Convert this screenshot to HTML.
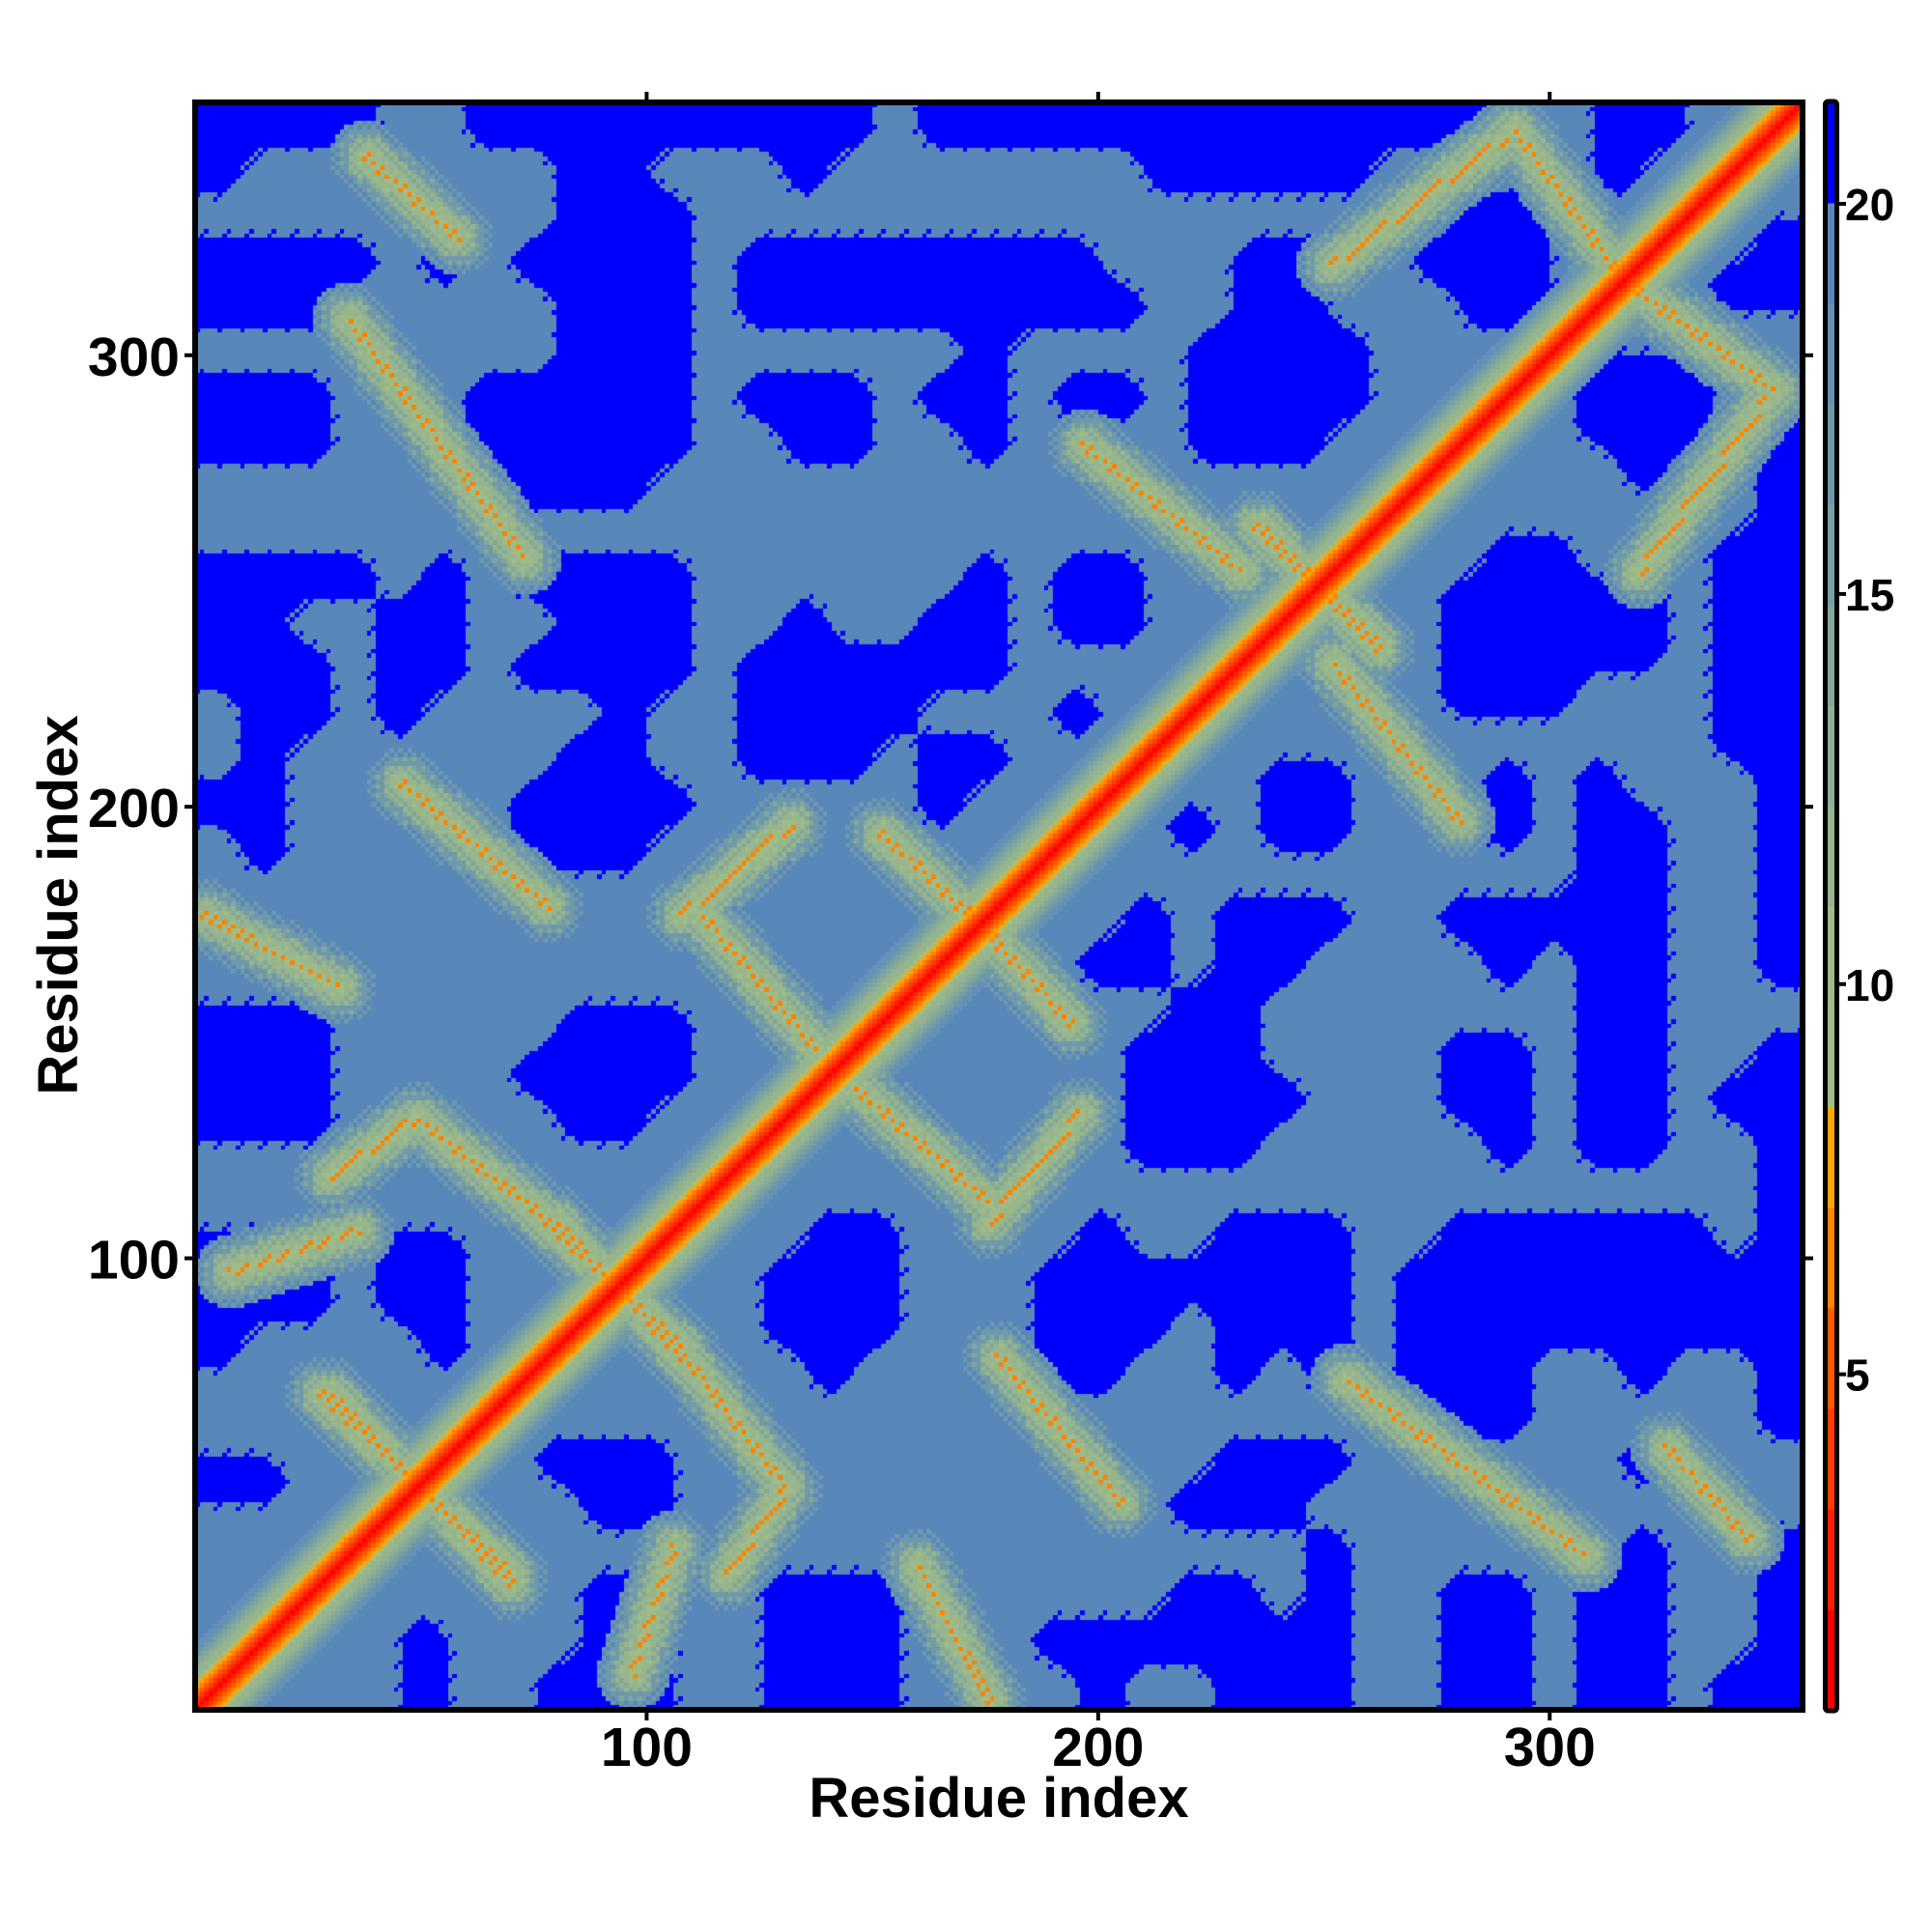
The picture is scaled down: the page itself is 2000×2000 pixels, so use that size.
<!DOCTYPE html>
<html>
<head>
<meta charset="utf-8">
<style>
html,body{margin:0;padding:0;background:#fff;}
#wrap{position:relative;width:2000px;height:2000px;overflow:hidden;background:#fff;}
#heat{position:absolute;left:202px;top:106px;width:1664px;height:1664px;}
#over{position:absolute;left:0;top:0;}
text{font-family:"Liberation Sans",sans-serif;font-weight:bold;fill:#000;}
</style>
</head>
<body>
<div id="wrap">
<canvas id="heat" width="1664" height="1664"></canvas>
<svg id="over" width="2000" height="2000">
  <g id="cbar"></g>
  <rect x="202" y="106" width="1664" height="1664" fill="none" stroke="#000" stroke-width="6"/>
  <g id="ticks"></g>
  <text x="1034" y="1881" font-size="58" text-anchor="middle">Residue index</text>
  <text x="0" y="0" font-size="58" text-anchor="middle" transform="translate(80,937) rotate(-90)">Residue index</text>
</svg>
</div>
<script>
// ---- data ----
const N = 356;
// coarse distance grid (10-residue blocks), rows from top (y high) to bottom; left half + right half
const gridRows = [
"####..#########.##" + "###########..##...",
"#.......##...#...." + "...#####.....#....",
"........###......." + "..........##......",
"####.#.####.######" + "##...##..###......",
"###.....###.######" + "###..##...##......",
"........###......#" + "....####..........",
"###...#####.###.##" + ".##.####..........",
"###...#####..##..#" + "....###...........",
".......###........" + "..................",
".................." + "..................",
"####.#.####......#" + ".##...............",
"##..##..###..#..##" + ".##...............",
"###.##.####.######" + "..................",
".##.#....#..####.." + ".#................",
".#......##..###.##" + "..................",
"##.....####.....#." + "..................",
".#.....###........" + "..................",
".................." + "..................",
".................." + "..................",
".................." + "..................",
"###.....###......." + "..................",
"###....####......." + "..................",
"###.....##........" + "..................",
".................." + "..................",
".................." + "..................",
"###.##............" + "..................",
"###.##............" + "..................",
"#....#............" + "..................",
".................." + "..................",
".................." + "..................",
"##................" + "..................",
".................." + "..................",
".................." + "..................",
".................." + "..................",
".................." + "..................",
".................." + ".................."
];
// distance profile along the main diagonal (|i-j| = 0,1,2,...)
const diagProfile = [1.2, 2.4, 3.6, 5.0, 6.4, 7.6, 9.5, 10.6, 11.6, 12.6, 13.8, 15.0, 16.2, 17.4, 18.4];
// secondary-structure contact stripes (residue coords, upper triangle)
const stripeStarts = [[34,308],[38,344],[30,118],[49,131],[2,176],[8,97],[252,320],[292,350],[197,280],[235,262],[46,205],[108,176],[152,194],[28,70],[112,176],[80,108]];
const stripeEnds   = [[73,255],[58,326],[49,131],[80,107],[32,160],[36,106],[290,348],[314,320],[232,252],[262,236],[78,178],[132,196],[178,170],[70,30],[138,146],[108,78]];
// colour scale
const cbarMin = 0.7, cbarMax = 21.3;
const cbarColors = ["#ff0000","#ff1e00","#ff3c00","#ff5a00","#ff8200","#ffa500","#a3be85","#9fbb88","#97b58d","#8daf93","#83a89b","#78a1a3","#6e99ab","#6591b4","#5a87ba","#0000ff"];
const cbarTicks = [5,10,15,20];
const xTicks = [100,200,300];
const yTicks = [100,200,300];

// ---- scales ----
const PX0 = 202, PY0 = 106, PW = 1664;
const sx = v => PX0 + v * PW / N;
const sy = v => PY0 + PW - v * PW / N;
const cy = v => PY0 + PW - (v - cbarMin) * PW / (cbarMax - cbarMin);
const nb = cbarColors.length, step = (cbarMax - cbarMin) / nb;
const colorOf = v => { let b = Math.floor((v - cbarMin) / step); if (b < 0) b = 0; if (b > nb - 1) b = nb - 1; return cbarColors[b]; };

function gridVal(r, c) {
  r = Math.max(0, Math.min(35, r)); c = Math.max(0, Math.min(35, c));
  const s = gridRows[r] || ""; return s.charAt(c) === "#" ? 1 : 0;
}
function maskAt(xc, yc) {
  const col = (xc - 5) / 10, row = (351 - yc) / 10;
  const c0 = Math.floor(col), r0 = Math.floor(row), fc = col - c0, fr = row - r0;
  return gridVal(r0, c0) * (1 - fc) * (1 - fr) + gridVal(r0, c0 + 1) * fc * (1 - fr) +
         gridVal(r0 + 1, c0) * (1 - fc) * fr + gridVal(r0 + 1, c0 + 1) * fc * fr;
}
function segDist(px, py, ax, ay, bx, by) {
  const dx = bx - ax, dy = by - ay; let t = ((px - ax) * dx + (py - ay) * dy) / (dx * dx + dy * dy);
  t = Math.max(0, Math.min(1, t)); const qx = ax + t * dx - px, qy = ay + t * dy - py;
  return Math.sqrt(qx * qx + qy * qy);
}
function valueAt(i, j) {
  const x = Math.min(i, j), y = Math.max(i, j);
  const xc = x - 0.5, yc = y - 0.5;
  const m = maskAt(xc, yc);
  let v = m > 0.5 ? 21 : 19;
  if (m > 0.35 && m <= 0.5 && ((i * 7 + j * 3) % 5 === 0)) v = 21;
  const d = y - x;
  if (d < diagProfile.length) v = Math.min(v, diagProfile[d] + ((d > 6 && (i + j) % 2) ? 0.9 : 0));
  let md = 99;
  for (let k = 0; k < stripeStarts.length; k++) {
    const a = stripeStarts[k], b = stripeEnds[k];
    md = Math.min(md, segDist(xc, yc, a[0], a[1], b[0], b[1]), segDist(xc, yc, a[1], a[0], b[1], b[0]));
  }
  let sv = 99;
  if (md < 1.0) sv = ((i + 2 * j) % 3 === 0) ? 6.2 : 9.8;
  else if (md < 2.6) sv = (i % 2 && j % 2) ? 9.8 : 11.2;
  else if (md < 4.4) sv = ((i + j) % 2) ? 12.0 : 13.6;
  else if (md < 6.2) sv = ((i * j) % 2) ? 14.6 : 16.2;
  else if (md < 8.0) sv = ((i + j) % 2) ? 17.0 : 19;
  return Math.min(v, sv);
}

// ---- heatmap ----
const ctx = document.getElementById("heat").getContext("2d");
const cell = PW / N;
for (let i = 1; i <= N; i++) {
  const x0 = Math.round((i - 1) * cell), x1 = Math.round(i * cell);
  for (let j = 1; j <= N; j++) {
    const y0 = Math.round(PW - j * cell), y1 = Math.round(PW - (j - 1) * cell);
    ctx.fillStyle = colorOf(valueAt(i, j));
    ctx.fillRect(x0, y0, x1 - x0, y1 - y0);
  }
}

// ---- overlay ----
const NS = "http://www.w3.org/2000/svg";
function mk(tag, attrs, parent) { const e = document.createElementNS(NS, tag); for (const k in attrs) e.setAttribute(k, attrs[k]); parent.appendChild(e); return e; }
const cbar = document.getElementById("cbar");
const binH = PW / nb;
cbarColors.forEach((c, b) => {
  const r = mk("rect", {x: 1890, y: PY0 + PW - (b + 1) * binH, width: 11, height: binH + 0.5, fill: c}, cbar);
  
  
});
const cf = mk("rect", {x: 1889.5, y: 105, width: 12, height: 1666, rx: 3, fill: "none", stroke: "#000", "stroke-width": 5}, cbar);


cbarTicks.forEach(v => {
  const t = mk("line", {x1: 1903, x2: 1911, y1: cy(v), y2: cy(v), stroke: "#000", "stroke-width": 4}, cbar);
  
  
  const l = mk("text", {x: 1910, y: cy(v) + 17, "font-size": 46}, cbar);
  l.textContent = String(v);
  
  
});
const tg = document.getElementById("ticks");
xTicks.forEach(v => {
  const b = mk("line", {x1: sx(v), x2: sx(v), y1: 1773, y2: 1781, stroke: "#000", "stroke-width": 4}, tg);
  
  
  const t = mk("line", {x1: sx(v), x2: sx(v), y1: 95, y2: 103, stroke: "#000", "stroke-width": 4}, tg);
  
  
  const l = mk("text", {x: sx(v), y: 1828, "font-size": 57, "text-anchor": "middle"}, tg);
  l.textContent = String(v);
  
  
});
yTicks.forEach(v => {
  const b = mk("line", {x1: 191, x2: 199, y1: sy(v), y2: sy(v), stroke: "#000", "stroke-width": 4}, tg);
  
  
  const r = mk("line", {x1: 1869, x2: 1877, y1: sy(v), y2: sy(v), stroke: "#000", "stroke-width": 4}, tg);
  
  
  const l = mk("text", {x: 186, y: sy(v) + 21, "font-size": 57, "text-anchor": "end"}, tg);
  l.textContent = String(v);
  
  
});
</script>
</body>
</html>
